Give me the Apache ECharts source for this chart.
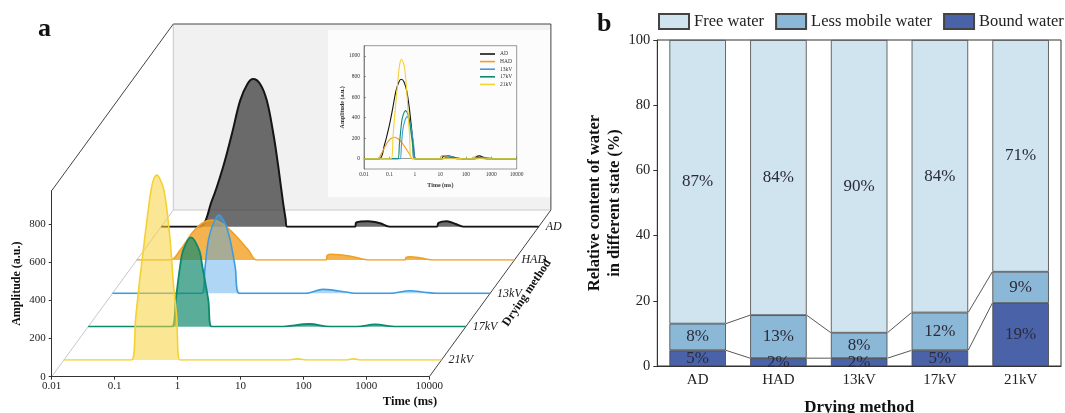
<!DOCTYPE html>
<html><head><meta charset="utf-8">
<script src="https://cdn.jsdelivr.net/npm/echarts@6/dist/echarts.min.js"></script>
<style>html,body{margin:0;padding:0;background:#fff}#c{width:1065px;height:413px}</style>
</head><body><div id="c"></div>
<script>
// ---------------- data ----------------
const methods = ['AD', 'HAD', '13kV', '17kV', '21kV'];
const timeTicks = ['0.01', '0.1', '1', '10', '100', '1000', '10000'];
const ampTicks = [0, 200, 400, 600, 800];
const insetAmpTicks = [0, 200, 400, 600, 800, 1000];

// T2 spectra: [time (ms), amplitude (a.u.)]
const specAD = [[0.01,0],[0.04,0],[0.064,136],[0.096,310],[0.133,485],[0.18,660],[0.235,747],[0.29,773],[0.374,747],[0.478,660],[0.608,485],[0.73,310],[0.857,136],[0.95,40],[1.0,0],[12,0],[12.6,22],[19.4,28],[30,18],[43,0],[240,0],[255,20],[346,28],[480,14],[635,0],[10000,0]];
const specHAD = [[0.01,0],[0.034,0],[0.049,52],[0.075,140],[0.108,192],[0.155,209],[0.224,192],[0.342,140],[0.593,52],[0.805,0],[10.2,0],[10.6,24],[12.5,30],[25,20],[51,0],[183,0],[190,14],[220,17],[330,10],[515,0],[10000,0]];
const spec13kV = [[0.01,0],[0.26,0],[0.296,139],[0.334,279],[0.40,366],[0.49,410],[0.615,366],[0.74,279],[0.89,139],[1.04,0],[12,0],[22,21],[40,12],[76,0],[257,0],[535,14],[900,6],[1420,0],[10000,0]];
const spec17kV = [[0.01,0],[0.213,0],[0.246,140],[0.288,314],[0.325,402],[0.43,468],[0.578,402],[0.653,314],[0.81,140],[0.92,0],[11,0],[33,14],[70,0],[185,0],[361,12],[800,0],[10000,0]];
const spec21kV = [[0.01,0],[0.118,0],[0.139,227],[0.158,401],[0.183,576],[0.212,750],[0.243,890],[0.27,950],[0.30,968],[0.34,945],[0.39,890],[0.447,750],[0.504,576],[0.549,401],[0.62,227],[0.70,0],[35,0],[52,6],[75,0],[316,0],[400,7],[500,0],[10000,0]];
const spectra = [specAD, specHAD, spec13kV, spec17kV, spec21kV];

// panel b: relative content (%)
const boundWater = [4.8, 2.4, 2.4, 4.8, 19.3];
const lessMobileWater = [8.2, 13.2, 7.8, 11.6, 9.6];
const freeWater = [87.0, 84.4, 89.8, 83.6, 71.1];
const boundLabels = ['5%', '2%', '2%', '5%', '19%'];
const lessLabels = ['8%', '13%', '8%', '12%', '9%'];
const freeLabels = ['87%', '84%', '90%', '84%', '71%'];

// ---------------- styles / layout ----------------
const FONT = "'Liberation Serif','Times New Roman',serif";
const lineColors = ['#151515', '#f0a124', '#3d9be0', '#0b8a6e', '#f5d132'];
const fillColors = ['rgba(60,60,60,0.75)', 'rgba(242,160,36,0.8)', 'rgba(77,163,232,0.45)', 'rgba(20,140,110,0.7)', 'rgba(248,210,60,0.55)'];
const lineWidths = [2, 1.6, 1.6, 1.8, 1.6];
const GA = {x0: 51.7, y0: 376.7, w: 377.6, axisH: 186, ampPx: 0.191, slotDx: 24.32, slotDy: 33.34, slots: 5};
const GI = {left: 364, top: 45.7, width: 152.7, height: 123.3};
const GB = {left: 657.3, top: 40, width: 403.7, height: 326};

const logLabel = v => timeTicks[Math.round(Math.log10(v)) + 2] || '';
const plainLabel = v => String(v);
const cumBound = boundWater.slice();
const cumLess = boundWater.map((b, i) => b + lessMobileWater[i]);

const backL = GA.x0 + GA.slots * GA.slotDx;
const backR = backL + GA.w;
const backT = GA.y0 - GA.axisH - GA.slots * GA.slotDy;
const backB = GA.y0 - GA.slots * GA.slotDy;

const grids = [
  {left: GA.x0, top: GA.y0 - GA.axisH, width: GA.w, height: GA.axisH, outerBoundsMode: 'none'},
  ...methods.map((m, i) => {
    const s = GA.slots - 1 - i;
    return {left: GA.x0 + GA.slotDx * (s + 0.5), top: GA.y0 - GA.slotDy * (s + 0.5) - 1000 * GA.ampPx,
            width: GA.w, height: 1000 * GA.ampPx, outerBoundsMode: 'none'};
  }),
  {left: GI.left, top: GI.top, width: GI.width, height: GI.height, show: true, borderColor: '#555', borderWidth: 0.6, outerBoundsMode: 'none'},
  {left: GB.left, top: GB.top, width: GB.width, height: GB.height, show: true, borderColor: '#333', borderWidth: 1, outerBoundsMode: 'none'}
];

const hiddenLogX = gi => ({gridIndex: gi, type: 'log', logBase: 10, min: 0.01, max: 10000, show: false});
const hiddenY = gi => ({gridIndex: gi, type: 'value', min: 0, max: 1000, show: false});

const xAxes = [
  {gridIndex: 0, type: 'log', logBase: 10, min: 0.01, max: 10000,
   axisLine: {lineStyle: {color: '#333', width: 1}},
   axisTick: {show: true, length: 3, lineStyle: {color: '#333'}},
   axisLabel: {formatter: logLabel, fontSize: 11, color: '#222', margin: 4, fontFamily: FONT},
   splitLine: {show: false}, minorTick: {show: false}},
  ...methods.map((m, i) => hiddenLogX(i + 1)),
  {gridIndex: 6, type: 'log', logBase: 10, min: 0.01, max: 10000,
   axisLine: {lineStyle: {color: '#555', width: 0.6}},
   axisTick: {show: true, inside: true, length: 2, lineStyle: {color: '#555', width: 0.6}},
   axisLabel: {formatter: logLabel, fontSize: 5.5, color: '#333', margin: 3, fontFamily: FONT},
   splitLine: {show: false},
   name: 'Time (ms)', nameLocation: 'middle', nameGap: 13,
   nameTextStyle: {fontSize: 6, fontWeight: 'bold', color: '#333', fontFamily: FONT}},
  {gridIndex: 7, type: 'category', data: methods,
   axisLine: {lineStyle: {color: '#333', width: 1}},
   axisTick: {show: false},
   axisLabel: {fontSize: 15, color: '#222', margin: 7, fontFamily: FONT},
   name: 'Drying method', nameLocation: 'middle', nameGap: 33,
   nameTextStyle: {fontSize: 17, fontWeight: 'bold', color: '#111', fontFamily: FONT}}
];

const yAxes = [
  {gridIndex: 0, type: 'value', min: 0, max: GA.axisH / GA.ampPx,
   axisLine: {show: true, lineStyle: {color: '#333', width: 1}},
   axisTick: {show: true, length: 3, customValues: ampTicks, lineStyle: {color: '#333'}},
   axisLabel: {customValues: ampTicks, formatter: plainLabel, fontSize: 11, color: '#222', margin: 6, fontFamily: FONT},
   splitLine: {show: false},
   name: 'Amplitude (a.u.)', nameLocation: 'middle', nameGap: 29,
   nameTextStyle: {fontSize: 12, fontWeight: 'bold', color: '#111', fontFamily: FONT}},
  ...methods.map((m, i) => hiddenY(i + 1)),
  {gridIndex: 6, type: 'value', min: -100, max: 1100,
   axisLine: {show: true, lineStyle: {color: '#555', width: 0.6}},
   axisTick: {show: true, inside: true, length: 2, customValues: insetAmpTicks, lineStyle: {color: '#555', width: 0.6}},
   axisLabel: {customValues: insetAmpTicks, formatter: plainLabel, fontSize: 5.5, color: '#333', margin: 4, fontFamily: FONT},
   splitLine: {show: false},
   name: 'Amplitude (a.u.)', nameLocation: 'middle', nameGap: 14,
   nameTextStyle: {fontSize: 6, fontWeight: 'bold', color: '#333', fontFamily: FONT}},
  {gridIndex: 7, type: 'value', min: 0, max: 100, interval: 20,
   axisLine: {show: true, lineStyle: {color: '#333', width: 1}},
   axisTick: {show: true, length: 4, lineStyle: {color: '#333'}},
   axisLabel: {fontSize: 14.5, color: '#222', margin: 7, fontFamily: FONT},
   splitLine: {show: false},
   name: 'Relative content of water\nin different state (%)', nameLocation: 'middle', nameGap: 23,
   nameTextStyle: {fontSize: 16.5, fontWeight: 'bold', color: '#111', fontFamily: FONT, lineHeight: 20}}
];

const mainSeries = methods.map((m, i) => ({
  name: m, type: 'line', xAxisIndex: i + 1, yAxisIndex: i + 1, data: spectra[i],
  smooth: 0.35, symbol: 'none', color: lineColors[i],
  lineStyle: {width: lineWidths[i], color: lineColors[i]},
  areaStyle: {color: fillColors[i], origin: 'start', opacity: 1},
  endLabel: {show: true, formatter: '{a}', color: '#222', fontStyle: 'italic', fontFamily: FONT, fontSize: 12, distance: 7},
  z: 2 + i, silent: true
}));

const insetSeries = methods.map((m, i) => ({
  name: m, type: 'line', xAxisIndex: 6, yAxisIndex: 6, data: spectra[i],
  smooth: 0.35, symbol: 'none', color: lineColors[i],
  lineStyle: {width: 1.1, color: lineColors[i]}, z: 2 + i, silent: true
}));

const barLabel = (arr) => ({show: true, position: 'inside', formatter: p => arr[p.dataIndex],
  fontSize: 17, color: '#2a2a3a', fontFamily: FONT});
const barCommon = {type: 'bar', xAxisIndex: 7, yAxisIndex: 7, stack: 'water', barWidth: '70%', silent: true};
const barSeries = [
  Object.assign({}, barCommon, {name: 'Bound water', data: boundWater,
    itemStyle: {color: '#4a63a8', borderColor: '#444', borderWidth: 0.8}, label: barLabel(boundLabels)}),
  Object.assign({}, barCommon, {name: 'Less mobile water', data: lessMobileWater,
    itemStyle: {color: '#8cb8d8', borderColor: '#444', borderWidth: 0.8}, label: barLabel(lessLabels)}),
  Object.assign({}, barCommon, {name: 'Free water', data: freeWater,
    itemStyle: {color: '#cfe4ee', borderColor: '#444', borderWidth: 0.8}, label: barLabel(freeLabels)})
];

const connectorSeries = {
  type: 'custom', xAxisIndex: 7, yAxisIndex: 7, silent: true, z: 5,
  data: methods.slice(0, -1).map((m, i) => [i, cumBound[i]]),
  renderItem: (params, api) => {
    const i = api.value(0);
    const hw = api.size([1, 0])[0] * 0.7 / 2;
    const children = [cumBound, cumLess].map(arr => {
      const a = api.coord([i, arr[i]]);
      const b = api.coord([i + 1, arr[i + 1]]);
      return {type: 'line', shape: {x1: a[0] + hw, y1: a[1], x2: b[0] - hw, y2: b[1]},
              style: {stroke: '#444', lineWidth: 0.9}};
    });
    return {type: 'group', children};
  }
};

const L = (x1, y1, x2, y2, stroke, w) => ({type: 'line', shape: {x1, y1, x2, y2}, style: {stroke, lineWidth: w || 1}, z: -5, silent: true});
const T = (x, y, text, font, align, extra) => Object.assign({type: 'text', x, y, z: 100, silent: true,
  style: {text, font, fill: '#111', align: align || 'center', verticalAlign: 'middle'}}, extra || {});

const graphics = [
  {type: 'rect', shape: {x: backL, y: backT, width: GA.w, height: GA.axisH}, style: {fill: '#f1f1f1'}, z: -10, silent: true},
  {type: 'rect', shape: {x: GI.left - 36, y: GI.top - 15.7, width: backR - (GI.left - 36), height: GI.height + 44}, style: {fill: '#fcfcfc'}, z: -9, silent: true},
  L(backL, backT, backR, backT, '#444', 1),
  L(backR, backT, backR, backB, '#444', 1),
  L(backL, backT, backL, backB, '#c8c8c8', 1),
  L(backL, backB, backR, backB, '#c8c8c8', 1),
  L(GA.x0, GA.y0 - GA.axisH, backL, backT, '#444', 1),
  L(GA.x0, GA.y0, backL, backB, '#c8c8c8', 1),
  L(GA.x0 + GA.w, GA.y0, backR, backB, '#444', 1),
  T(38, 29, 'a', 'bold 26px ' + FONT, 'left'),
  T(597, 24, 'b', 'bold 26px ' + FONT, 'left'),
  T(410, 402, 'Time (ms)', 'bold 12.5px ' + FONT),
  T(527, 293, 'Drying method', 'bold 12px ' + FONT, 'center', {rotation: 56 * Math.PI / 180})
];

const chart = echarts.init(document.getElementById('c'), null, {renderer: 'canvas'});
chart.setOption({
  animation: false,
  backgroundColor: '#fff',
  textStyle: {fontFamily: FONT},
  grid: grids,
  xAxis: xAxes,
  yAxis: yAxes,
  legend: [
    {data: ['Free water', 'Less mobile water', 'Bound water'], left: 658, top: 13, padding: 0, width: 430,
     itemWidth: 30, itemHeight: 15, itemGap: 11, icon: 'rect', selectedMode: false,
     textStyle: {fontSize: 16.5, fontFamily: FONT, color: '#222'}},
    {data: methods, orient: 'vertical', left: 480, top: 51, padding: 0,
     itemWidth: 15, itemHeight: 1.6, itemGap: 1.6, icon: 'rect', selectedMode: false,
     textStyle: {fontSize: 5.5, fontFamily: FONT, color: '#333'}}
  ],
  graphic: {elements: graphics},
  series: [...mainSeries, ...insetSeries, ...barSeries, connectorSeries]
});
</script></body></html>
